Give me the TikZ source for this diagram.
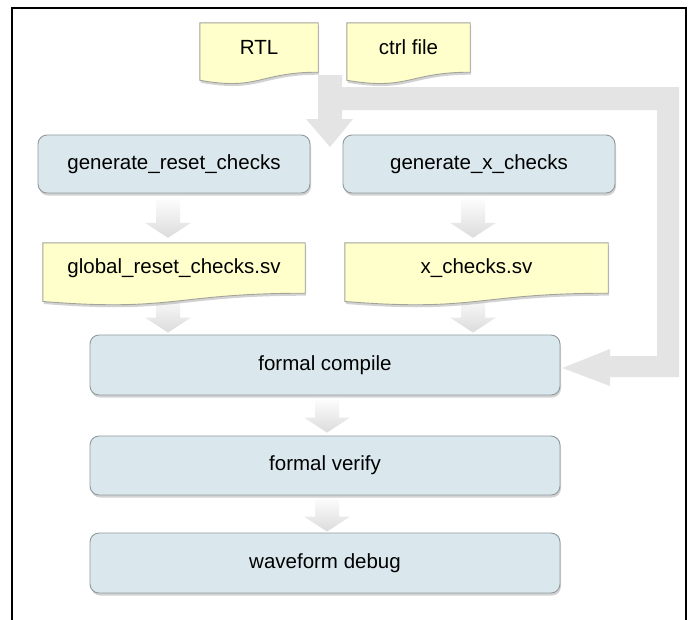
\documentclass[tikz,border=0pt]{standalone}
\usepackage{fontspec}
\setmainfont{Liberation Sans}
\usetikzlibrary{calc,shadows}
\pgfdeclarelayer{bg}
\pgfdeclarelayer{docs}
\pgfsetlayers{bg,docs,main}
\definecolor{boxblue}{HTML}{DAE8EE}
\definecolor{docyellow}{HTML}{FFFFCC}
\definecolor{arrgray}{HTML}{E4E4E4}
\definecolor{edgegray}{HTML}{8F9A9E}
\definecolor{docedge}{HTML}{A3A39A}
\tikzset{
  every node/.style={font=\fontsize{20.5}{24}\selectfont, text=black},
  bluebox/.style={draw=edgegray, line width=0.9pt, fill=boxblue, rounded corners=9pt, inner sep=0pt,
    drop shadow={shadow xshift=1pt, shadow yshift=-2.5pt, opacity=0.35}},
  docnode/.style={inner sep=0pt},
  docshape/.style={draw=docedge, line width=0.9pt, fill=docyellow,
    drop shadow={shadow xshift=1pt, shadow yshift=-2.5pt, opacity=0.35}},
  bigarrow/.style={fill=arrgray},
  smallarrow/.style={top color=white, bottom color=black!14},
  frameline/.style={line width=2.2pt, draw=black}
}
% #1 name, #2 cx, #3 cy, #4 width, #5 straight height, #6 text
\newcommand\docnode[6]{%
  \node[docnode, minimum width=#4, minimum height=#5] (#1) at (#2,#3) {#6};
  \begin{pgfonlayer}{docs}
  \path[docshape] (#1.north west) -- (#1.north east) -- (#1.south east)
    .. controls (#1.south) and ($(#1.south)+(0,0.38*#5)$) .. ($(#1.south west)+(0,0.165*#5)$) -- cycle;
  \end{pgfonlayer}}
% #1 x, #2 from node, #3 to node, #4 start gap, #5 end gap
\newcommand\blockarrow[5]{%
  \begin{pgfonlayer}{bg}
  \path[smallarrow] let \p1=(#2.south), \p2=(#3.north), \p3=(#1,0) in
    (\x3-12pt,\y1-#4) -- (\x3+12pt,\y1-#4) -- (\x3+12pt,\y2+#5+15pt) -- (\x3+23pt,\y2+#5+15pt)
    -- (\x3,\y2+#5) -- (\x3-23pt,\y2+#5+15pt) -- (\x3-12pt,\y2+#5+15pt) -- cycle;
  \end{pgfonlayer}}
\begin{document}
\begin{tikzpicture}[x=1pt,y=-1pt]
\useasboundingbox (0,0) rectangle (690,619);
\begin{pgfonlayer}{bg}
\fill[white] (0,0) rectangle (690,619);
\end{pgfonlayer}
\draw[frameline] (12,625) -- (12,8) -- (686,8) -- (686,625);

% input documents
\docnode{rtl}{259}{47.5}{118}{49}{RTL}
\docnode{ctrl}{408.5}{47.5}{123}{49}{ctrl file}

% generators
\node[bluebox, minimum width=272, minimum height=58] (grc) at (174,164) {generate\_reset\_checks};
\node[bluebox, minimum width=272, minimum height=58] (gxc) at (479,164) {generate\_x\_checks};

% generated files
\docnode{grcsv}{174}{268}{262}{50}{global\_reset\_checks.sv}
\docnode{xsv}{476.5}{268}{263}{50}{x\_checks.sv}

% formal flow
\node[bluebox, minimum width=470, minimum height=60] (fc) at (325,365) {formal compile};
\node[bluebox, minimum width=470, minimum height=59] (fv) at (325,465.5) {formal verify};
\node[bluebox, minimum width=470, minimum height=60] (wd) at (325,563) {waveform debug};

% big arrow from inputs
\coordinate (busstart) at (330,75);
\begin{pgfonlayer}{bg}
\path[bigarrow] (318,75) -- (318,119) -- (306,119) -- (330,147) -- (353,119) -- (342,119)
  -- (342,110) -- (657,110) -- (657,356) -- (610,356) -- (610,349) -- ($(fc.east)+(2,3)$)
  -- (610,386) -- (610,377) -- (679,377) -- (679,87) -- (342,87) -- (342,75) -- cycle;
\end{pgfonlayer}

% small arrows
\blockarrow{168}{grc}{grcsv}{3pt}{5pt}
\blockarrow{473}{gxc}{xsv}{3pt}{5pt}
\blockarrow{168}{grcsv}{fc}{0pt}{2pt}
\blockarrow{473}{xsv}{fc}{0pt}{2pt}
\blockarrow{327}{fc}{fv}{2pt}{3pt}
\blockarrow{327}{fv}{wd}{1pt}{1pt}
\end{tikzpicture}
\end{document}
